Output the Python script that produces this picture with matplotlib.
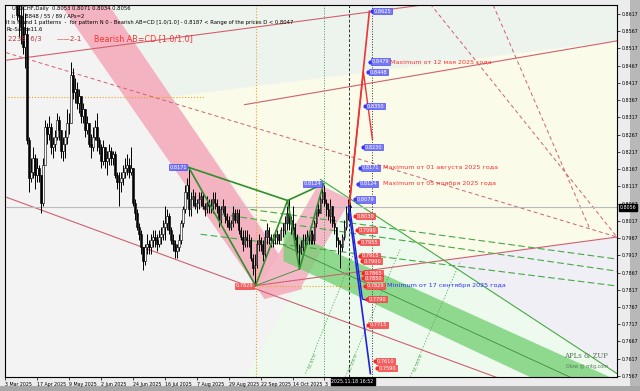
import numpy as np
import matplotlib.pyplot as plt
from matplotlib.patches import Polygon, Rectangle

# USDCHF daily bars, index 0 = 26 Mar 2025, prices in pips (1e-4)
closes = [8830, 8835, 8840, 8825, 8810, 8830, 8615, 8610, 8580, 8520,
          8560, 8250, 8140, 8160, 8200, 8150, 8170, 8150, 8070, 8180,
          8290, 8270, 8290, 8230, 8240, 8260, 8310, 8280, 8220, 8240,
          8260, 8300, 8300, 8440, 8390, 8400, 8360, 8380, 8320, 8340,
          8280, 8300, 8240, 8230, 8260, 8290, 8250, 8230, 8190, 8230,
          8190, 8200, 8220, 8200, 8210, 8150, 8130, 8130, 8140, 8160,
          8170, 8180, 8160, 8170, 8070, 8040, 8000, 7980, 7940, 7900,
          7940, 7950, 7940, 7960, 7970, 7960, 7950, 7970, 7980, 8000,
          8010, 8030, 7990, 7960, 7950, 7930, 7940, 7960, 8010, 8050,
          8100, 8120, 8050, 8080, 8090, 8060, 8070, 8080, 8090, 8060,
          8050, 8070, 8060, 8060, 8080, 8070, 8060, 8020, 8050, 8060,
          8030, 8020, 8000, 8010, 8040, 8020, 8040, 7990, 7970, 7950,
          7970, 7960, 7960, 7910, 7880, 7890, 7950, 7960, 7950, 7920,
          7970, 7990, 7970, 7960, 7960, 7970, 7980, 7960, 7990, 7990,
          8010, 8040, 8010, 8020, 8000, 7970, 7930, 7930, 7940, 7960,
          7960, 7970, 7960, 7980, 7960, 8010, 8050, 8040, 8080, 8100,
          8070, 8050, 8030, 8060, 8010, 8000, 7960, 7950, 7940, 7970,
          8000, 8040, 8060, 8056]
highs = [8850, 8860, 8860, 8850, 8840, 8850, 8840, 8650, 8700, 8640,
         8620, 8580, 8260, 8200, 8230, 8210, 8200, 8180, 8150, 8200,
         8310, 8300, 8320, 8300, 8260, 8280, 8330, 8320, 8280, 8260,
         8280, 8340, 8330, 8478, 8460, 8430, 8420, 8400, 8380, 8360,
         8340, 8320, 8300, 8270, 8290, 8310, 8330, 8260, 8240, 8250,
         8230, 8220, 8240, 8230, 8220, 8220, 8160, 8160, 8160, 8180,
         8200, 8210, 8200, 8230, 8170, 8080, 8050, 8010, 7990, 7940,
         7950, 7980, 7960, 7980, 7990, 7990, 7980, 7990, 8000, 8020,
         8060, 8050, 8040, 8000, 7980, 7960, 7950, 7980, 8020, 8060,
         8120, 8140, 8172, 8100, 8110, 8100, 8080, 8100, 8100, 8100,
         8070, 8090, 8080, 8080, 8100, 8100, 8080, 8060, 8060, 8080,
         8060, 8040, 8030, 8020, 8060, 8050, 8050, 8050, 8000, 7990,
         7990, 7990, 7980, 7970, 7920, 7920, 7960, 7980, 7970, 7960,
         7990, 8010, 8000, 7980, 7980, 7990, 7990, 7980, 8000, 8010,
         8030, 8060, 8080, 8030, 8060, 8010, 7980, 7950, 7960, 7980,
         7980, 7990, 7980, 7990, 7990, 8020, 8060, 8070, 8100, 8124,
         8120, 8080, 8070, 8080, 8060, 8030, 8000, 7970, 7960, 7980,
         8020, 8060, 8080, 8071]
lows = [8800, 8810, 8810, 8800, 8790, 8800, 8600, 8550, 8530, 8500,
        8460, 8240, 8100, 8130, 8140, 8110, 8130, 8130, 8040, 8060,
        8180, 8240, 8250, 8210, 8200, 8220, 8250, 8250, 8200, 8190,
        8200, 8240, 8270, 8300, 8370, 8360, 8340, 8330, 8300, 8300,
        8260, 8270, 8230, 8200, 8220, 8250, 8220, 8210, 8170, 8180,
        8170, 8150, 8180, 8180, 8180, 8140, 8110, 8060, 8100, 8120,
        8140, 8150, 8140, 8150, 8060, 8020, 7990, 7960, 7920, 7875,
        7890, 7920, 7920, 7920, 7940, 7940, 7930, 7940, 7950, 7960,
        7960, 7990, 7980, 7950, 7930, 7910, 7910, 7930, 7950, 8000,
        8040, 8080, 8030, 8030, 8060, 8050, 8040, 8050, 8060, 8050,
        8030, 8040, 8040, 8040, 8040, 8050, 8040, 8000, 8010, 8040,
        8010, 8000, 7990, 7990, 8000, 8010, 8010, 7980, 7960, 7930,
        7940, 7940, 7940, 7900, 7860, 7828, 7880, 7930, 7930, 7900,
        7910, 7950, 7950, 7940, 7940, 7950, 7950, 7950, 7960, 7970,
        7980, 7990, 7990, 7980, 7990, 7960, 7920, 7877, 7920, 7930,
        7940, 7950, 7950, 7950, 7950, 7950, 8000, 8030, 8040, 8070,
        8060, 8030, 8020, 8010, 8000, 7980, 7940, 7920, 7880, 7930,
        7960, 7990, 8020, 8034]

date_ticks = [0, 16, 32, 48, 64, 80, 96, 112, 128, 144, 160]
date_labels = ["3 Mar 2025", "17 Apr 2025", "9 May 2025", "2 Jun 2025", "24 Jun 2025",
               "16 Jul 2025", "7 Aug 2025", "29 Aug 2025", "22 Sep 2025", "14 Oct 2025", "3"]
price_ticks = [0.7567 + 0.005 * k for k in range(22)]

# AB=CD pattern points (bar, price)
pat_x = [92, 125.5, 141.5, 147.5, 159.5]
pat_y = [0.8172, 0.7829, 0.8076, 0.7877, 0.8124]

# projection levels (level, bar of label)
up_levels = [(0.8625, 184), (0.8479, 183), (0.8448, 182), (0.8350, 180.5),
             (0.8230, 179.5), (0.8171, 178), (0.8124, 177), (0.8079, 175.5)]
dn_levels = [(0.8030, 175.5), (0.7990, 176.5), (0.7955, 177.5), (0.7915, 178),
             (0.7900, 179), (0.7865, 179.5), (0.7850, 179.5), (0.7829, 180.5),
             (0.7790, 181.5), (0.7715, 182), (0.7610, 185.5), (0.7590, 186.5)]

# background zones and channels
mint_zone = [(52, 0.8643), (306.5, 0.8643), (306.5, 0.8539), (83.4, 0.8377)]
yellow_zone = [(83.4, 0.8377), (306.5, 0.8539), (306.5, 0.7970), (148, 0.7845)]
green_zone = [(158, 0.8137), (306.5, 0.7574), (306.5, 0.7560), (120, 0.7560), (148, 0.7845)]
lav_zone = [(220, 0.7903), (306.5, 0.7970), (306.5, 0.7579)]
pink_band = [(28, 0.8643), (52, 0.8643), (149, 0.7819), (130, 0.7790)]
pink_band2 = [(129, 0.7840), (157, 0.8123), (173, 0.8079), (148, 0.7822)]
green_band = [(139.5, 0.7993), (317, 0.7527), (276.5, 0.7527), (139.5, 0.7900)]
green_band_mid = [(139.5, 0.7946), (306.5, 0.7501)]

red_lines = [[(120, 0.8354), (306.5, 0.8539)],
             [(-0.5, 0.8482), (213, 0.8646)],
             [(-0.5, 0.8088), (248, 0.7559)],
             [(125.5, 0.7829), (306.5, 0.7970)]]
red_dashed = [[(0.5, 0.8505), (306.5, 0.7970)],
              [(213, 0.8646), (306.5, 0.7970)],
              [(244.5, 0.8643), (293, 0.7992)]]
green_dashed = [[(123, 0.8050), (306.5, 0.7906)],
                [(108, 0.8036), (306.5, 0.7871)],
                [(98, 0.7978), (306.5, 0.7828)]]
green_solid = [[(158, 0.8137), (306.5, 0.7574)]]
# rising fibo guide lines near the bottom, with their labels
gl_lines = [[(150.5, 0.7574), (175.5, 0.7935)],
            [(170.5, 0.7565), (198, 0.7935)],
            [(203, 0.7565), (228, 0.7900)]]
gl_names = ["GL 61.8", "GL 100.0", "GL 161.8"]

fig = plt.figure(figsize=(6.4, 3.91), dpi=100, facecolor='#ececec')
# window bevels
fig.patches.append(Rectangle((630 / 640, 0), 10 / 640, 1, transform=fig.transFigure, fc='#b8b8b8', ec='none', zorder=0))
fig.patches.append(Rectangle((0, 0), 1, 5 / 391, transform=fig.transFigure, fc='#a8a8a8', ec='none', zorder=0))

ax = fig.add_axes([5 / 640, 14 / 391, 612 / 640, 372 / 391])
ax.set_zorder(3)
ax.set_facecolor('#f3f3f3')
ax.set_xlim(0.5, 306.5)
ax.set_ylim(0.7564, 0.8643)

def poly(pts, **kw):
    ax.add_patch(Polygon(pts, closed=True, lw=0, **kw))

poly(mint_zone, fc='#edf4ee', zorder=0)
poly(yellow_zone, fc='#fbfbe9', zorder=0)
poly(green_zone, fc='#eefaee', zorder=0)
poly(lav_zone, fc='#f1eff6', zorder=0)
poly(pink_band, fc='#f4b3c0', zorder=1)
poly(pink_band2, fc='#f4b9c6', zorder=1)
poly(green_band, fc='#70cf70', alpha=0.75, zorder=1)
xs, ys = zip(*green_band_mid)
ax.plot(xs, ys, color='#3c8c3c', lw=0.6, zorder=2)

for ln in red_lines:
    xs, ys = zip(*ln)
    ax.plot(xs, ys, color='#d06070', lw=0.8, zorder=2)
for ln in red_dashed:
    xs, ys = zip(*ln)
    ax.plot(xs, ys, color='#d06070', lw=0.7, ls=(0, (4, 3)), zorder=2)
for ln in green_dashed:
    xs, ys = zip(*ln)
    ax.plot(xs, ys, color='#44aa44', lw=0.8, ls=(0, (6, 3)), zorder=2)
for ln in green_solid:
    xs, ys = zip(*ln)
    ax.plot(xs, ys, color='#44aa44', lw=0.8, zorder=2)
for ln, name in zip(gl_lines, gl_names):
    xs, ys = zip(*ln)
    ax.plot(xs, ys, color='#55aa55', lw=0.6, ls=(0, (1.5, 2)), zorder=2)
    ax.text(xs[0] + 4, ys[0] + 0.0012, name, fontsize=3, color='#55aa55', rotation=68,
            ha='center', va='bottom', zorder=2)

ax.axhline(0.8056, color='#bbbbbb', lw=0.8, zorder=2)
ax.plot([0, 100], [0.8377, 0.8377], color='#f0a020', lw=0.8, ls=':', zorder=2)
ax.plot([125.5, 190], [0.7828, 0.7828], color='#f0a020', lw=0.8, ls=':', zorder=2)
ax.axvline(125.5, color='#f0a020', lw=0.8, ls=':', zorder=2)
ax.axvline(160, color='#40a040', lw=0.7, ls=':', zorder=2)
ax.axvline(172.5, color='#333333', lw=0.7, ls=(0, (3, 2)), zorder=2)
ax.axvline(184, color='#333333', lw=0.7, ls=':', zorder=2)

# candles
c = np.array(closes) / 1e4
h = np.array(highs) / 1e4
l = np.array(lows) / 1e4
o = np.concatenate([[0.8820], c[:-1]])
idx = np.arange(len(c))
ax.vlines(idx, l, h, color='black', lw=0.7, zorder=3)
up = c >= o
ax.bar(idx[up], (c - o)[up], bottom=o[up], width=0.8, color='white', edgecolor='black', lw=0.4, zorder=4)
ax.bar(idx[~up], (o - c)[~up], bottom=c[~up], width=0.8, color='black', edgecolor='black', lw=0.4, zorder=4)

# pattern
ax.plot(pat_x, pat_y, color='#2f8f2f', lw=1.2, zorder=5)
ax.plot([pat_x[0], pat_x[2], pat_x[4]], [pat_y[0], pat_y[2], pat_y[4]], color='#2f8f2f', lw=1.2, zorder=5)
ax.plot([pat_x[1], pat_x[3]], [pat_y[1], pat_y[3]], color='#2f8f2f', lw=0.6, zorder=5)

# projection zigzags
ax.plot([172.5, 182.5], [0.8065, 0.8625], color='#ee3333', lw=1.2, zorder=5)
ax.plot([172.5, 179.5, 184], [0.8065, 0.8449, 0.8253], color='#ee3333', lw=1.0, zorder=5)
ax.plot([172, 183], [0.8059, 0.7574], color='#2222dd', lw=1.2, zorder=5)
ax.plot([173, 179, 184], [0.8042, 0.7790, 0.7782], color='#2222dd', lw=1.0, zorder=5)

blue_box = dict(boxstyle='square,pad=0.12', fc='#7878f0', ec='#3333ff', lw=0.4)
red_box = dict(boxstyle='square,pad=0.12', fc='#f06060', ec='#ff2222', lw=0.4)
for lev, b in up_levels:
    ax.plot(b, lev, 'o', ms=2, color='#3333ff', zorder=7)
    ax.text(b + 0.8, lev, "%.4f" % lev, fontsize=3.6, color='white', va='center', ha='left', bbox=blue_box, zorder=7)
for lev, b in dn_levels:
    ax.plot(b, lev, 'o', ms=2, color='#ff2222', zorder=7)
    ax.text(b + 0.8, lev, "%.4f" % lev, fontsize=3.6, color='white', va='center', ha='left', bbox=red_box, zorder=7)

ax.text(pat_x[0] - 1, pat_y[0], "0.8171", fontsize=3.6, color='white', va='center', ha='right', bbox=blue_box, zorder=7)
ax.text(pat_x[4] - 1, pat_y[4], "0.8124", fontsize=3.6, color='white', va='center', ha='right', bbox=blue_box, zorder=7)
ax.text(pat_x[1] - 1, pat_y[1], "0.7829", fontsize=3.6, color='white', va='center', ha='right', bbox=red_box, zorder=7)

note = dict(fontsize=4.6, va='center', zorder=7)
ax.text(193, 0.8478, "Maximum от 12 мая 2025 года", color='#ff3030', **note)
ax.text(189.5, 0.8171, "Maximum от 01 августа 2025 года", color='#ff3030', **note)
ax.text(189.5, 0.8124, "Maximum от 05 ноября 2025 года", color='#ff3030', **note)
ax.text(191.5, 0.7829, "Minimum от 17 сентября 2025 года", color='#3030ff', **note)

# header texts
hdr = dict(transform=ax.transAxes, fontsize=3.8, color='black', va='top', zorder=8)
ax.text(0.012, 0.997, "USDCHF,Daily  0.8053 0.8071 0.8034 0.8056", **hdr)
ax.text(0.012, 0.978, "i: 6 / 8848 / 55 / 89 / APs=2", **hdr)
ax.text(0.002, 0.959, "It is found 1 patterns  -  for pattern N 0 - Bearish AB=CD [1.0/1.0] - 0.8187 < Range of the prices D < 0.8047", **hdr)
ax.text(0.002, 0.940, "Rc-Sanke11.6", **hdr)
ax.text(0.005, 0.918, "2238  6/3", transform=ax.transAxes, fontsize=5, color='#b04040', va='top', zorder=8)
ax.text(0.085, 0.918, "——2-1", transform=ax.transAxes, fontsize=5, color='#cc3030', va='top', zorder=8)
ax.text(0.145, 0.922, "Bearish AB=CD [1.0/1.0]", transform=ax.transAxes, fontsize=5.8, color='#ff3030', va='top', zorder=8)
ax.text(0.985, 0.05, "APLs & ZUP", transform=ax.transAxes, fontsize=5, color='#557755', ha='right', zorder=8, family='DejaVu Serif')
ax.text(0.985, 0.025, "Olow @ mtg.com", transform=ax.transAxes, fontsize=3.5, color='#557755', ha='right', zorder=8)

ax.yaxis.tick_right()
ax.set_yticks(price_ticks)
ax.set_yticklabels(["%.4f" % p for p in price_ticks])
ax.set_xticks(date_ticks)
ax.set_xticklabels(date_labels, ha='left')
ax.tick_params(axis='both', labelsize=3.4, length=2, width=0.5, pad=1.5)
for s in ax.spines.values():
    s.set_linewidth(0.8)
    s.set_color('black')

ax.text(1.004, (0.8056 - 0.7564) / (0.8643 - 0.7564), "0.8056", transform=ax.transAxes,
        fontsize=3.4, color='white', va='center', ha='left',
        bbox=dict(boxstyle='square,pad=0.15', fc='black', ec='black'), zorder=9, clip_on=False)
ax.text(163.5, 0.7558, "2025.11.18 16:52", fontsize=3.4, color='white', va='top', ha='left',
        bbox=dict(boxstyle='square,pad=0.2', fc='black', ec='black'), zorder=9, clip_on=False)

fig.savefig('out.png', dpi=100, facecolor=fig.get_facecolor())
